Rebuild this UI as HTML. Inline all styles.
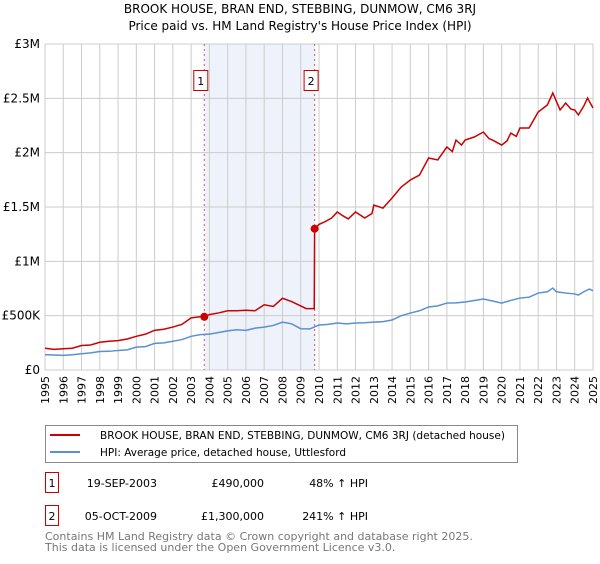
<!DOCTYPE html>
<html><head><meta charset="utf-8"><style>
body{margin:0;background:#fff;width:600px;height:560px;overflow:hidden;font-family:"DejaVu Sans","Liberation Sans",sans-serif}
svg text{font-family:"DejaVu Sans","Liberation Sans",sans-serif}
</style></head><body>
<svg id="c" width="600" height="560" xmlns="http://www.w3.org/2000/svg">
<text x="300" y="13" text-anchor="middle" font-size="12" fill="#000">BROOK HOUSE, BRAN END, STEBBING, DUNMOW, CM6 3RJ</text>
<text x="300" y="30" text-anchor="middle" font-size="12" fill="#000">Price paid vs. HM Land Registry's House Price Index (HPI)</text>
<g id="grid"></g><g id="series"></g><g id="axes"></g>
<rect x="45.5" y="425.5" width="472" height="37" fill="#fff" stroke="#888"/>
<line x1="50" y1="435" x2="80" y2="435" stroke="#cc0000" stroke-width="2"/>
<text x="100" y="439" font-size="11" textLength="405" lengthAdjust="spacingAndGlyphs">BROOK HOUSE, BRAN END, STEBBING, DUNMOW, CM6 3RJ (detached house)</text>
<line x1="50" y1="452" x2="80" y2="452" stroke="#5b8fd4" stroke-width="2"/>
<text x="100" y="456" font-size="11" textLength="246" lengthAdjust="spacingAndGlyphs">HPI: Average price, detached house, Uttlesford</text>
<g>
<rect x="45.5" y="472.5" width="13" height="20" fill="#fff" stroke="#cc0000"/>
<text x="52" y="487" font-size="11" text-anchor="middle">1</text>
<text x="157" y="487" font-size="11" text-anchor="end">19-SEP-2003</text>
<text x="264" y="487" font-size="11" text-anchor="end">£490,000</text>
<text x="368" y="487" font-size="11" text-anchor="end">48% ↑ HPI</text></g>
<g>
<rect x="45.5" y="505.5" width="13" height="20" fill="#fff" stroke="#cc0000"/>
<text x="52" y="520" font-size="11" text-anchor="middle">2</text>
<text x="157" y="520" font-size="11" text-anchor="end">05-OCT-2009</text>
<text x="264" y="520" font-size="11" text-anchor="end">£1,300,000</text>
<text x="368" y="520" font-size="11" text-anchor="end">241% ↑ HPI</text></g>
<text x="45" y="540" font-size="11" fill="#777">Contains HM Land Registry data © Crown copyright and database right 2025.</text>
<text x="45" y="551" font-size="11" fill="#777">This data is licensed under the Open Government Licence v3.0.</text>
</svg>
<script>
const years=[1995,1996,1997,1998,1999,2000,2001,2002,2003,2004,2005,2006,2007,2008,2009,2010,2011,2012,2013,2014,2015,2016,2017,2018,2019,2020,2021,2022,2023,2024,2025];
const yTicks=[0,500000,1000000,1500000,2000000,2500000,3000000];
const yTickLabels=["£0","£500K","£1M","£1.5M","£2M","£2.5M","£3M"];
const redT=[1995,1995.5,1996,1996.5,1997,1997.5,1998,1998.5,1999,1999.5,2000,2000.5,2001,2001.5,2002,2002.5,2003,2003.5,2003.72,2004,2004.5,2005,2005.5,2006,2006.5,2007,2007.5,2008,2008.5,2009,2009.3,2009.74,2009.76,2010,2010.3,2010.7,2011,2011.3,2011.6,2012,2012.5,2012.9,2013,2013.5,2014,2014.5,2015,2015.5,2016,2016.5,2017,2017.3,2017.5,2017.8,2018,2018.5,2019,2019.3,2019.5,2020,2020.3,2020.5,2020.8,2021,2021.5,2022,2022.5,2022.8,2023,2023.2,2023.5,2023.8,2024,2024.2,2024.5,2024.7,2025];
const redV=[200,190,195,200,225,230,255,265,270,285,310,330,365,375,395,420,480,490,490,510,525,545,545,550,545,600,585,660,630,590,565,565,1300,1340,1362,1400,1454,1420,1390,1454,1399,1440,1518,1490,1583,1684,1748,1794,1951,1933,2052,2010,2116,2070,2116,2144,2190,2130,2116,2070,2110,2180,2150,2227,2227,2374,2439,2549,2470,2393,2457,2400,2393,2347,2430,2503,2411];
const blueT=[1995,1995.5,1996,1996.5,1997,1997.5,1998,1998.5,1999,1999.5,2000,2000.5,2001,2001.5,2002,2002.5,2003,2003.5,2004,2004.5,2005,2005.5,2006,2006.5,2007,2007.5,2008,2008.5,2009,2009.5,2010,2010.5,2011,2011.5,2012,2012.5,2013,2013.5,2014,2014.5,2015,2015.5,2016,2016.5,2017,2017.5,2018,2018.5,2019,2019.5,2020,2020.5,2021,2021.5,2022,2022.5,2022.8,2023,2023.5,2024,2024.2,2024.5,2024.8,2025];
const blueV=[140,138,135,140,150,158,170,172,180,185,210,215,245,250,265,280,310,325,330,345,360,370,365,385,395,410,440,425,380,378,414,420,432,425,432,435,441,445,460,500,524,545,580,590,616,618,626,640,653,635,616,640,662,670,708,720,754,720,708,700,690,720,745,730];
const sales=[[2003.72,490],[2009.76,1300]];
const X0=45,X1=593,Y0=370,Y1=44;
const sx=t=>X0+(t-1995)/30*(X1-X0);
const sy=v=>Y0-v/3000000*(Y0-Y1);
const NS="http://www.w3.org/2000/svg";
function mk(tag,attrs,parent,txt){const e=document.createElementNS(NS,tag);for(const k in attrs)e.setAttribute(k,attrs[k]);if(txt!==undefined)e.textContent=txt;document.getElementById(parent).appendChild(e);return e;}
const shade=mk('rect',{x:sx(sales[0][0]),y:Y1,width:sx(sales[1][0])-sx(sales[0][0]),height:Y0-Y1,fill:'#eef2fb'},'grid');


years.forEach(y=>{const l=mk('line',{x1:sx(y),x2:sx(y),y1:Y1,y2:Y0,stroke:'#ccc'},'grid');


const t=mk('text',{x:0,y:0,'font-size':11,'text-anchor':'end',transform:`translate(${sx(y)+4},${Y0+6}) rotate(-90)`},'axes',String(y));

});
yTicks.forEach((v,i)=>{const l=mk('line',{x1:X0,x2:X1,y1:sy(v),y2:sy(v),stroke:'#ccc'},'grid');


const t=mk('text',{x:40,y:sy(v)+4,'font-size':12,'text-anchor':'end'},'axes',yTickLabels[i]);

});
sales.forEach((s,i)=>{const l=mk('line',{x1:sx(s[0]),x2:sx(s[0]),y1:Y1,y2:Y0,stroke:'#e05555','stroke-dasharray':'2,3'},'grid');


const bx=mk('rect',{x:sx(s[0])-10.5,y:70.5,width:14,height:20,fill:'#fff',stroke:'#cc0000'},'grid');


mk('text',{x:sx(s[0])-3.5,y:85,'font-size':11,'text-anchor':'middle'},'grid',String(i+1));});
const bp=mk('polyline',{points:blueT.map((t,i)=>sx(t)+','+sy(blueV[i]*1000)).join(' '),fill:'none',stroke:'#5b8fd4','stroke-width':1.5},'series');


const rp=mk('polyline',{points:redT.map((t,i)=>sx(t)+','+sy(redV[i]*1000)).join(' '),fill:'none',stroke:'#cc0000','stroke-width':1.5},'series');


sales.forEach(s=>{const c=mk('circle',{cx:sx(s[0]),cy:sy(s[1]*1000),r:4,fill:'#cc0000'},'series');

});
</script>
</body></html>
